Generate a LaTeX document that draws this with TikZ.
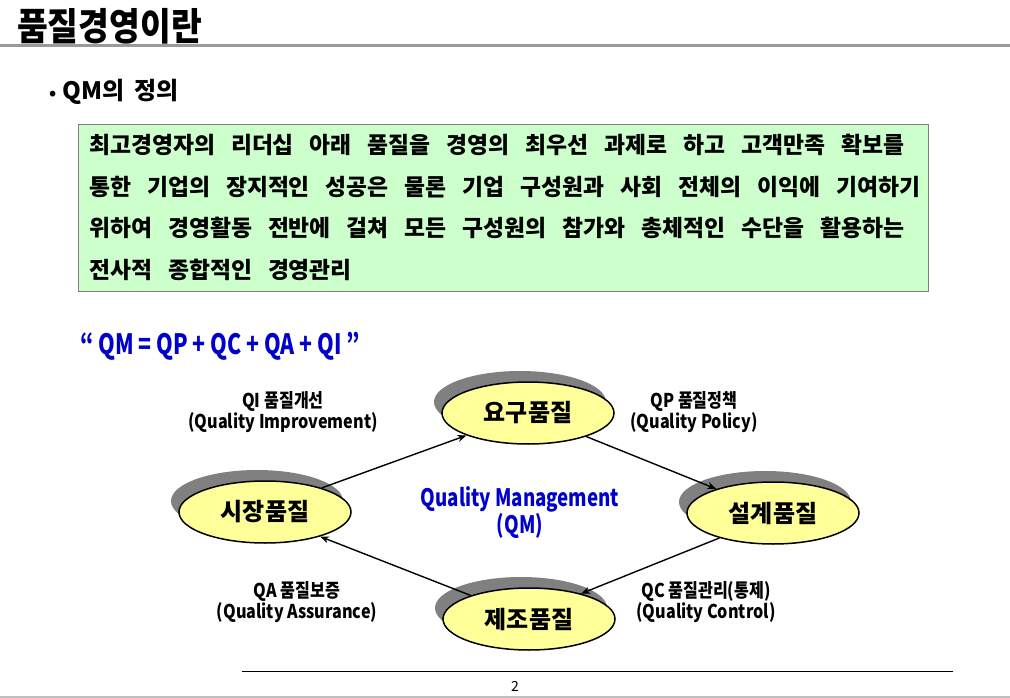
\documentclass[tikz,border=0pt]{standalone}
\usepackage{fontspec}
\usetikzlibrary{shapes.geometric,shadows,arrows.meta}
\setmainfont{Noto Sans CJK KR}
\newfontfamily\kcond{Noto Sans CJK KR}[FakeStretch=0.85]
\newfontfamily\ktitle{Noto Sans CJK KR}[FakeStretch=0.88]
\newfontfamily\kform{Noto Sans CJK KR}[FakeStretch=0.76]
\newfontfamily\kqm{Noto Sans CJK KR}[FakeStretch=0.78]
\newcommand\bodyfnt{\fontsize{22.8}{26}\selectfont\bfseries\spaceskip=16pt\relax}
\newcommand\subfnt{\fontsize{24}{28}\selectfont\bfseries\spaceskip=10pt\relax}
\definecolor{boxgreen}{HTML}{CCFFCC}
\definecolor{ellyellow}{HTML}{FFFF99}
\definecolor{qblue}{HTML}{0000CC}
\definecolor{shadowgray}{HTML}{808080}
\tikzset{
  qual/.style={ellipse, draw=black, line width=1.5pt, fill=ellyellow,
    minimum width=172pt, minimum height=62pt, inner sep=0pt,
    font=\fontsize{24}{28}\selectfont\bfseries,
    drop shadow={shadow xshift=-8pt, shadow yshift=11pt, fill=shadowgray, opacity=1}},
  flow/.style={-{Stealth[length=9pt,width=7pt]}, line width=1.4pt},
  lbl/.style={align=center, inner sep=0pt, font=\kcond\fontsize{19}{21}\selectfont\bfseries},
  bodyline/.style={anchor=west, inner sep=0pt, font=\bodyfnt},
}
\begin{document}
\begin{tikzpicture}[x=1pt,y=-1pt]
\useasboundingbox (0,0) rectangle (1010,698);
\fill[white] (0,0) rectangle (1010,698);
% title
\node[anchor=west, inner sep=0pt, font=\ktitle\fontsize{38}{42}\selectfont\bfseries] (title) at (17,26) {품질경영이란};
\draw[shadowgray!80, line width=3pt] (0,45.5) -- (1010,45.5);
\draw[gray!50, line width=1.5pt] (0,697) -- (1010,697);
% subtitle
\node[anchor=west, inner sep=0pt, font=\subfnt] (sub) at (49,92) {{\fontsize{18}{20}\selectfont•}\hspace{6pt}QM의 정의};
% definition box
\node[draw=shadowgray, line width=0.8pt, fill=boxgreen, minimum width=850pt, minimum height=167pt, anchor=north west, inner sep=0pt] (box) at (78,124) {};
\node[bodyline] (l1) at (89,145) {최고경영자의 리더십 아래 품질을 경영의 최우선 과제로 하고 고객만족 확보를};
\node[bodyline] (l2) at (89,187) {통한 기업의 장지적인 성공은 물론 기업 구성원과 사회 전체의 이익에 기여하기};
\node[bodyline] (l3) at (89,228) {위하여 경영활동 전반에 걸쳐 모든 구성원의 참가와 총체적인 수단을 활용하는};
\node[bodyline] (l4) at (89,270) {전사적 종합적인 경영관리};
% formula
\node[anchor=west, inner sep=0pt, text=qblue, font=\kform\fontsize{28}{32}\selectfont\bfseries] (formula) at (80,346) {“ QM = QP + QC + QA + QI ”};
% ellipses
\node[qual] (yogu) at (528,413) {요구품질};
\node[qual] (sijang) at (265,512) {시장품질};
\node[qual] (seolgye) at (773,513) {설계품질};
\node[qual] (jejo) at (529,619) {제조품질};
% arrows
\draw[flow] (sijang.23) -- (yogu.200);
\draw[flow] (yogu.338) -- (seolgye.157);
\draw[flow] (seolgye.205) -- (jejo.26);
\draw[flow] (jejo.158) -- (sijang.336);
% labels
\node[lbl] (qi) at (283,412) {QI 품질개선\\(Quality Improvement)};
\node[lbl] (qp) at (694,412) {QP 품질정책\\(Quality Policy)};
\node[lbl] (qa) at (297,602) {QA 품질보증\\(Quality Assurance)};
\node[lbl] (qc) at (706,602) {QC 품질관리(통제)\\(Quality Control)};
\node[align=center, inner sep=0pt, text=qblue, font=\kqm\fontsize{24}{25}\selectfont\bfseries] (qm) at (520,513) {Quality Management\\(QM)};
% footer
\coordinate (fl) at (242,671);
\coordinate (fr) at (953,671);
\draw[black, line width=1pt] (fl) -- (fr);
\node[inner sep=0pt, font=\fontsize{14}{16}\selectfont] (page) at (515,686) {2};
\end{tikzpicture}
\end{document}
